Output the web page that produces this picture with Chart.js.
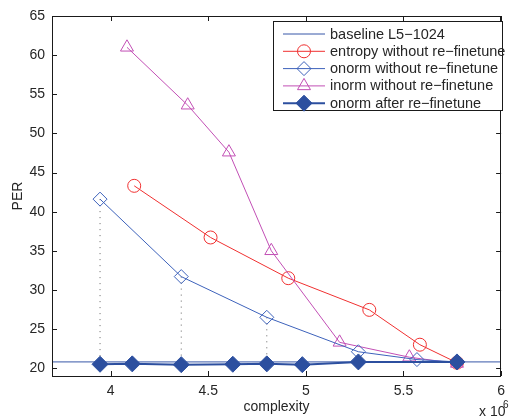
<!DOCTYPE html>
<html><head><meta charset="utf-8">
<script src="https://cdn.jsdelivr.net/npm/chart.js@4/dist/chart.umd.min.js"></script>
<style>html,body{margin:0;padding:0;background:#fff}#wrap{width:512px;height:419px}</style>
</head><body><div id="wrap"><canvas id="c" width="512" height="419"></canvas></div>
<script>
// ---- data ----
const X_MIN = 3.7, X_MAX = 6, Y_MIN = 19, Y_MAX = 65;
const xTicks = [4, 4.5, 5, 5.5, 6];
const yTicks = [20, 25, 30, 35, 40, 45, 50, 55, 60, 65];
const xLabel = 'complexity';
const yLabel = 'PER';
const xExponent = '6';
const seriesNames = ['baseline L5\u22121024', 'entropy without re\u2212finetune', 'onorm without re\u2212finetune', 'inorm without re\u2212finetune', 'onorm after re\u2212finetune'];
const baselineY = 20.8;
const entropyX = [4.121, 4.512, 4.910, 5.325, 5.584, 5.774];
const entropyY = [43.3, 36.7, 31.5, 27.45, 23.0, 20.7];
const onormX = [3.946, 4.362, 4.800, 5.269, 5.569, 5.774];
const onormY = [41.6, 31.7, 26.5, 22.1, 21.1, 20.8];
const inormX = [4.084, 4.395, 4.606, 4.823, 5.173, 5.530, 5.774];
const inormY = [61.0, 53.6, 47.6, 35.0, 23.3, 21.4, 20.6];
const afterX = [3.946, 4.111, 4.362, 4.626, 4.800, 4.982, 5.269, 5.774];
const afterY = [20.5, 20.55, 20.45, 20.5, 20.55, 20.45, 20.8, 20.8];
const linkIdx = [0, 1, 2]; // onorm points joined (dotted) to the re-finetuned point at same complexity

// ---- styles ----
const FONT = '"Liberation Sans", Arial, Helvetica, sans-serif';
const TXT = '#262626';
const C_BASE = '#3656a8', C_RED = '#f03030', C_ONORM = '#3d62bb', C_INORM = '#c24fb5', C_AFTER = '#2c4f9f';

const pts = (xs, ys) => xs.map((x, i) => ({x: x, y: ys[i]}));
const datasets = [];
linkIdx.forEach(i => {
  const j = afterX.indexOf(onormX[i]);
  datasets.push({
    label: 'link', data: [{x: onormX[i], y: onormY[i]}, {x: afterX[j], y: afterY[j]}],
    showLine: true, borderColor: '#666666', borderWidth: 1, borderDash: [1, 5], pointRadius: 0, order: 6
  });
});
datasets.push({label: seriesNames[0], data: [{x: X_MIN, y: baselineY}, {x: X_MAX, y: baselineY}], showLine: true,
  borderColor: C_BASE, borderWidth: 1, pointRadius: 0, order: 5, _leg: {style: null, fill: false, lw: 1}});
datasets.push({label: seriesNames[1], data: pts(entropyX, entropyY), showLine: true, borderColor: C_RED, borderWidth: 1,
  pointStyle: 'circle', pointRadius: 6.5, pointBorderColor: C_RED, pointBackgroundColor: 'rgba(0,0,0,0)', pointBorderWidth: 1, order: 4,
  _leg: {style: 'circle', r: 6.5, fill: false, lw: 1}});
datasets.push({label: seriesNames[3], data: pts(inormX, inormY), showLine: true, borderColor: C_INORM, borderWidth: 1,
  pointStyle: 'triangle', pointRadius: 7.5, pointBorderColor: C_INORM, pointBackgroundColor: 'rgba(0,0,0,0)', pointBorderWidth: 1, order: 3,
  _leg: {style: 'triangle', r: 7.5, fill: false, lw: 1}});
datasets.push({label: seriesNames[2], data: pts(onormX, onormY), showLine: true, borderColor: C_ONORM, borderWidth: 1,
  pointStyle: 'rectRot', pointRadius: 7, pointBorderColor: C_ONORM, pointBackgroundColor: 'rgba(0,0,0,0)', pointBorderWidth: 1, order: 2,
  _leg: {style: 'rectRot', r: 7, fill: false, lw: 1}});
datasets.push({label: seriesNames[4], data: pts(afterX, afterY), showLine: true, borderColor: C_AFTER, borderWidth: 2,
  pointStyle: 'rectRot', pointRadius: 8, pointBorderColor: C_AFTER, pointBackgroundColor: C_AFTER, pointBorderWidth: 1, order: 1,
  _leg: {style: 'rectRot', r: 8, fill: true, lw: 2}});

function marker(ctx, style, x, y, r, color, fill) {
  ctx.beginPath();
  if (style === 'circle') ctx.arc(x, y, r, 0, Math.PI * 2);
  else if (style === 'triangle') {
    let a = 0;
    for (let k = 0; k < 3; k++) { const px = x + Math.sin(a) * r, py = y - Math.cos(a) * r; k ? ctx.lineTo(px, py) : ctx.moveTo(px, py); a += 2 * Math.PI / 3; }
    ctx.closePath();
  } else if (style === 'rectRot') {
    ctx.moveTo(x, y - r); ctx.lineTo(x + r, y); ctx.lineTo(x, y + r); ctx.lineTo(x - r, y); ctx.closePath();
  }
  ctx.lineWidth = 1; ctx.strokeStyle = color;
  if (fill) { ctx.fillStyle = color; ctx.fill(); }
  ctx.stroke();
}

const decor = {
  id: 'decor',
  afterDatasetsDraw(chart) {
    const ctx = chart.ctx, a = chart.chartArea, sx = chart.scales.x, sy = chart.scales.y;
    ctx.save();
    ctx.strokeStyle = '#1a1a1a'; ctx.lineWidth = 1;
    ctx.strokeRect(Math.round(a.left) + 0.5, Math.round(a.top) + 0.5, Math.round(a.right - a.left) - 1, Math.round(a.bottom - a.top));
    const TL = 5;
    ctx.beginPath();
    sx.ticks.forEach(t => {
      const px = Math.round(sx.getPixelForValue(t.value)) + 0.5;
      ctx.moveTo(px, a.bottom); ctx.lineTo(px, a.bottom - TL);
      ctx.moveTo(px, a.top); ctx.lineTo(px, a.top + TL);
    });
    sy.ticks.forEach(t => {
      const py = Math.round(sy.getPixelForValue(t.value)) + 0.5;
      ctx.moveTo(a.left, py); ctx.lineTo(a.left + TL, py);
      ctx.moveTo(a.right, py); ctx.lineTo(a.right - TL, py);
    });
    ctx.stroke();
    // axis titles
    ctx.fillStyle = TXT; ctx.font = '14px ' + FONT;
    ctx.textAlign = 'center'; ctx.textBaseline = 'middle';
    ctx.fillText(xLabel, (a.left + a.right) / 2, 407);
    ctx.save(); ctx.translate(18, (a.top + a.bottom) / 2); ctx.rotate(-Math.PI / 2); ctx.fillText(yLabel, 0, 0); ctx.restore();
    ctx.textAlign = 'left';
    ctx.fillText('x 10', 479, 412);
    ctx.font = '10px ' + FONT; ctx.fillText(xExponent, 503, 405);
    // legend
    const L = {x: 273, y: 21, w: 229, h: 89, rowY0: 34, dy: 17.3};
    ctx.fillStyle = '#fff'; ctx.fillRect(L.x, L.y, L.w, L.h);
    ctx.strokeStyle = '#1a1a1a'; ctx.lineWidth = 1; ctx.strokeRect(L.x + 0.5, L.y + 0.5, L.w, L.h);
    [0, 1, 2, 3, 4].forEach((k, i) => {
      const ds = chart.data.datasets.find(d => d.label === seriesNames[k]);
      const y = L.rowY0 + i * L.dy;
      ctx.beginPath(); ctx.strokeStyle = ds.borderColor; ctx.lineWidth = ds._leg.lw;
      ctx.moveTo(283, y); ctx.lineTo(325, y); ctx.stroke();
      if (ds._leg.style) marker(ctx, ds._leg.style, 304, y, ds._leg.r, ds.borderColor, ds._leg.fill);
      ctx.fillStyle = TXT; ctx.font = '14.5px ' + FONT; ctx.textAlign = 'left'; ctx.textBaseline = 'middle';
      ctx.fillText(seriesNames[k], 330, y + 0.5);
    });
    ctx.restore();
  }
};

new Chart(document.getElementById('c'), {
  type: 'scatter',
  data: {datasets: datasets},
  options: {
    responsive: false, animation: false, devicePixelRatio: 1,
    layout: {padding: {top: 16, right: 4, left: 0, bottom: 0}},
    plugins: {legend: {display: false}, tooltip: {enabled: false}},
    scales: {
      x: {type: 'linear', min: X_MIN, max: X_MAX,
        afterBuildTicks: s => { s.ticks = xTicks.map(v => ({value: v})); },
        afterFit: s => { s.height = 43; },
        ticks: {autoSkip: false, maxRotation: 0, padding: 7, color: TXT, font: {family: FONT, size: 14}, callback: v => String(v)},
        grid: {display: false, drawTicks: false}, border: {display: false}},
      y: {type: 'linear', min: Y_MIN, max: Y_MAX,
        afterBuildTicks: s => { s.ticks = yTicks.map(v => ({value: v})); },
        afterFit: s => { s.width = 52; },
        ticks: {autoSkip: false, padding: 7, color: TXT, font: {family: FONT, size: 14}, callback: v => String(v)},
        grid: {display: false, drawTicks: false}, border: {display: false}}
    }
  },
  plugins: [decor]
});
</script></body></html>
